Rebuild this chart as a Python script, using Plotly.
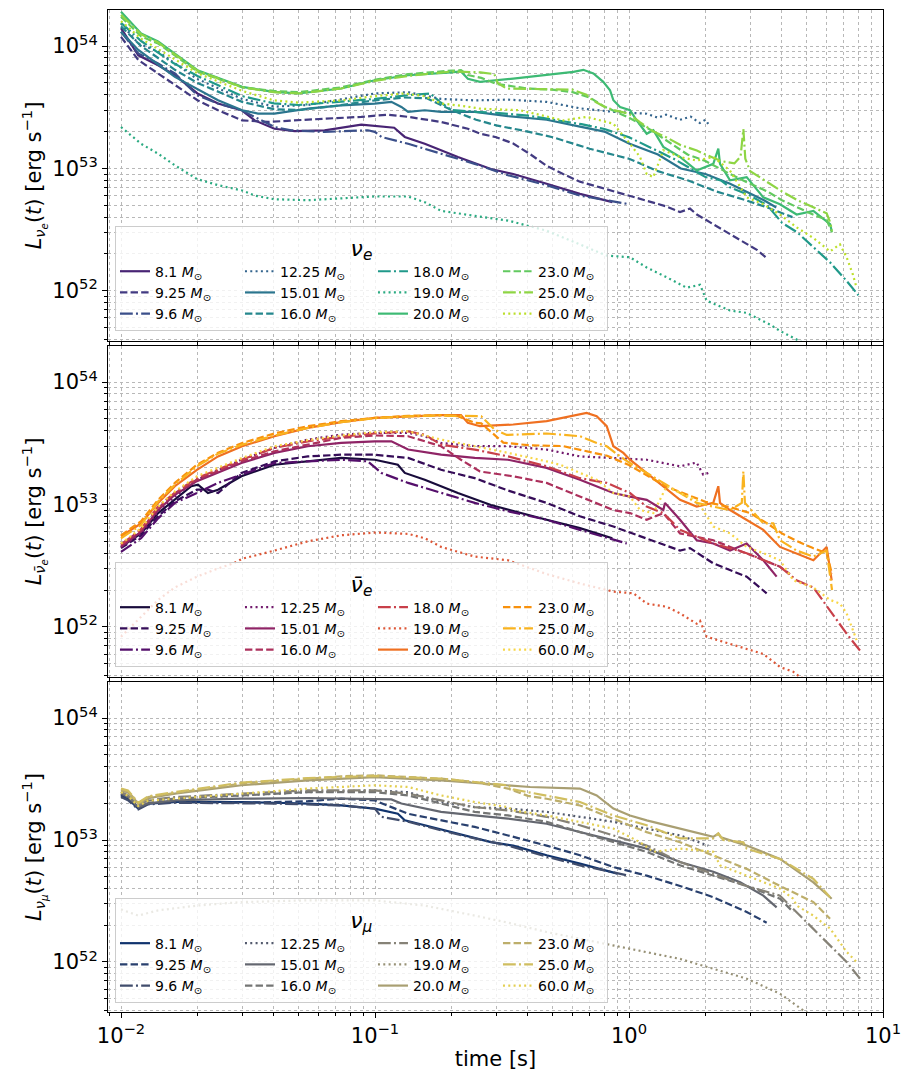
import plotly.graph_objects as go
from plotly.subplots import make_subplots
from plotly.colors import sample_colorscale, sequential

MASSES = ["8.1", "9.25", "9.6", "12.25", "15.01", "16.0", "18.0", "19.0", "20.0", "23.0", "25.0", "60.0"]
STYLES = ["solid", "dashed", "dashdot", "dotted"] * 3

# ---------------- nu_e luminosity (erg/s) vs time (s) ----------------
NUE_T = {
    "8.1": [0.01, 0.0117, 0.014, 0.0163, 0.02, 0.0241, 0.0298, 0.0336, 0.0402, 0.0483, 0.0633, 0.0883, 0.119, 0.131, 0.157, 0.212, 0.286, 0.35, 0.474, 0.641, 0.86],
    "9.25": [0.01, 0.0117, 0.014, 0.0163, 0.02, 0.0241, 0.03, 0.0379, 0.0468, 0.0633, 0.0883, 0.1125, 0.135, 0.182, 0.232, 0.26, 0.30, 0.35, 0.41, 0.474, 0.55, 0.641, 0.77, 1.0, 1.174, 1.4, 1.588, 1.738, 1.85, 2.147, 2.5, 2.906, 3.2, 3.483],
    "9.6": [0.01, 0.0117, 0.014, 0.0163, 0.02, 0.0241, 0.0298, 0.0402, 0.0468, 0.0633, 0.0937, 0.0998, 0.106, 0.135, 0.182, 0.247, 0.334, 0.474, 0.641, 0.77, 1.0],
    "12.25": [0.01, 0.0117, 0.014, 0.0199, 0.03, 0.0402, 0.0544, 0.0736, 0.0998, 0.135, 0.182, 0.247, 0.334, 0.474, 0.641, 0.868, 1.174, 1.3, 1.4, 1.588, 1.75, 1.9, 2.0, 2.084],
    "15.01": [0.01, 0.0117, 0.0163, 0.0199, 0.0241, 0.03, 0.0346, 0.0402, 0.0544, 0.0736, 0.0998, 0.116, 0.127, 0.135, 0.157, 0.182, 0.247, 0.334, 0.474, 0.641, 0.8, 1.0, 1.3, 1.6, 2.0, 2.5, 3.0, 3.4, 3.8],
    "16.0": [0.01, 0.012, 0.0163, 0.02, 0.03, 0.04, 0.05, 0.07, 0.1, 0.13, 0.16, 0.2, 0.25, 0.3, 0.4, 0.5, 0.7, 1.0, 1.3, 1.7, 2.2, 2.8, 3.5, 4.4],
    "18.0": [0.01, 0.012, 0.016, 0.02, 0.03, 0.04, 0.05, 0.07, 0.1, 0.14, 0.165, 0.18, 0.2, 0.25, 0.3, 0.4, 0.5, 0.65, 0.8, 1.0, 1.2, 1.5, 2.0, 2.3, 2.5, 3.0, 3.5, 4.0, 4.6, 5.3, 6.2, 7.2, 8.0],
    "19.0": [0.01, 0.012, 0.014, 0.0163, 0.0199, 0.0241, 0.03, 0.0336, 0.0402, 0.0544, 0.0998, 0.135, 0.157, 0.182, 0.247, 0.334, 0.474, 0.641, 0.817, 1.009, 1.174, 1.406, 1.686, 1.904, 2.022, 2.498, 2.906, 3.59, 3.93, 4.57, 5.3],
    "20.0": [0.01, 0.012, 0.014, 0.02, 0.03, 0.04, 0.05, 0.0736, 0.0998, 0.135, 0.2, 0.218, 0.232, 0.259, 0.35, 0.474, 0.604, 0.661, 0.724, 0.792, 0.842, 0.868, 0.922, 1.009, 1.072, 1.174, 1.247, 1.365, 1.588, 1.847, 2.147, 2.247, 2.282, 2.498, 2.906, 3.379, 3.93, 4.57, 5.32, 6.19, 6.28],
    "23.0": [0.01, 0.012, 0.014, 0.02, 0.03, 0.04, 0.05, 0.0736, 0.0998, 0.135, 0.2, 0.218, 0.232, 0.262, 0.301, 0.4, 0.5, 0.6, 0.7, 0.8, 1.0, 1.2, 1.4, 1.7, 2.0, 2.5, 3.0, 3.5, 4.0, 4.6, 5.3, 6.0, 6.3],
    "25.0": [0.01, 0.012, 0.014, 0.02, 0.03, 0.04, 0.05, 0.0736, 0.0998, 0.135, 0.2, 0.26, 0.295, 0.304, 0.324, 0.33, 0.45, 0.6, 0.68, 0.72, 0.8, 0.87, 1.0, 1.1, 1.25, 1.4, 1.6, 1.85, 2.0, 2.3, 2.6, 2.75, 2.82, 2.87, 3.0, 3.4, 4.0, 4.6, 5.3, 6.0, 6.2, 6.3],
    "60.0": [0.01, 0.012, 0.0163, 0.02, 0.03, 0.04, 0.05, 0.0736, 0.0998, 0.13, 0.157, 0.182, 0.232, 0.259, 0.372, 0.551, 0.681, 0.868, 1.009, 1.105, 1.174, 1.247, 1.365, 1.588, 1.847, 2.147, 2.498, 2.906, 3.379, 3.93, 4.57, 5.32, 6.19, 6.77, 7.19, 7.6, 7.87],
}
NUE_L = {
    "8.1": [1.40e54, 8.4e53, 6.98e53, 5.78e53, 4.10e53, 3.39e53, 2.99e53, 2.47e53, 2.11e53, 2.02e53, 2.05e53, 2.28e53, 2.15e53, 1.81e53, 1.59e53, 1.24e53, 9.9e52, 9.0e52, 7.5e52, 6.2e52, 5.3e52],
    "9.25": [1.19e54, 7.7e53, 5.97e53, 4.79e53, 3.61e53, 2.99e53, 2.47e53, 2.40e53, 2.47e53, 2.55e53, 2.64e53, 2.75e53, 2.64e53, 2.40e53, 2.11e53, 1.92e53, 1.80e53, 1.60e53, 1.30e53, 1.05e53, 9.0e52, 7.8e52, 7.0e52, 6.0e52, 5.5e52, 4.9e52, 4.4e52, 4.7e52, 4.2e52, 3.5e52, 2.9e52, 2.4e52, 2.15e52, 1.85e52],
    "9.6": [1.31e54, 8.7e53, 7.2e53, 5.97e53, 3.96e53, 3.39e53, 2.99e53, 2.18e53, 2.05e53, 1.99e53, 2.05e53, 1.99e53, 1.81e53, 1.59e53, 1.32e53, 1.09e53, 8.8e52, 7.3e52, 6.0e52, 5.6e52, 5.1e52],
    "12.25": [1.53e54, 1.05e54, 9.0e53, 5.4e53, 3.7e53, 3.2e53, 3.3e53, 3.7e53, 4.1e53, 4.2e53, 3.7e53, 3.6e53, 3.65e53, 3.5e53, 3.1e53, 2.9e53, 2.8e53, 2.6e53, 2.75e53, 2.5e53, 2.65e53, 2.35e53, 2.5e53, 2.2e53],
    "15.01": [1.31e54, 9.3e53, 5.6e53, 4.5e53, 3.61e53, 2.99e53, 2.81e53, 2.81e53, 3.08e53, 3.28e53, 3.39e53, 3.5e53, 3.18e53, 2.9e53, 2.99e53, 2.9e53, 2.9e53, 2.68e53, 2.5e53, 2.2e53, 2.0e53, 1.6e53, 1.3e53, 1.0e53, 9.0e52, 7.5e52, 6.2e52, 5.5e52, 4.8e52],
    "16.0": [1.45e54, 1.0e54, 6.4e53, 5.0e53, 3.5e53, 3.05e53, 3.0e53, 3.25e53, 3.6e53, 3.8e53, 3.75e53, 3.0e53, 2.5e53, 2.25e53, 2.0e53, 1.8e53, 1.45e53, 1.2e53, 9.5e52, 8.0e52, 6.5e52, 5.6e52, 4.8e52, 4.0e52],
    "18.0": [1.55e54, 1.1e54, 7.3e53, 5.7e53, 3.9e53, 3.4e53, 3.3e53, 3.5e53, 3.7e53, 4.0e53, 4.1e53, 3.5e53, 3.0e53, 2.9e53, 2.85e53, 2.7e53, 2.5e53, 2.3e53, 2.1e53, 1.8e53, 1.5e53, 1.2e53, 8.5e52, 8.0e52, 7.0e52, 6.0e52, 5.0e52, 3.6e52, 3.0e52, 2.3e52, 1.7e52, 1.2e52, 9.2e51],
    "19.0": [2.18e53, 1.59e53, 1.32e53, 1.06e53, 8.2e52, 7.3e52, 6.6e52, 6.0e52, 5.6e52, 5.5e52, 5.9e52, 5.9e52, 5.3e52, 4.5e52, 4.1e52, 3.75e52, 3.1e52, 2.4e52, 1.94e52, 1.88e52, 1.55e52, 1.29e52, 1.06e52, 1.12e52, 8.3e51, 6.9e51, 6.6e51, 5.3e51, 4.7e51, 4.0e51, 3.4e51],
    "20.0": [1.91e54, 1.27e54, 1.09e54, 6.35e53, 4.64e53, 4.22e53, 4.1e53, 4.5e53, 5.26e53, 5.78e53, 6.1e53, 6.2e53, 5.4e53, 5.1e53, 5.43e53, 5.78e53, 6.16e53, 6.4e53, 5.97e53, 5.1e53, 4.36e53, 3.61e53, 3.18e53, 2.99e53, 2.47e53, 1.92e53, 2.05e53, 1.5e53, 1.24e53, 9.6e52, 1.09e53, 1.45e53, 1.09e53, 8.0e52, 8.5e52, 5.8e52, 5.1e52, 4.2e52, 4.5e52, 3.5e52, 3.1e52],
    "23.0": [1.74e54, 1.2e54, 1.05e54, 6.2e53, 4.6e53, 4.3e53, 4.2e53, 4.6e53, 5.3e53, 5.9e53, 6.3e53, 6.35e53, 5.8e53, 5.5e53, 4.9e53, 4.5e53, 4.4e53, 4.2e53, 3.8e53, 3.2e53, 2.6e53, 2.1e53, 1.7e53, 1.3e53, 1.15e53, 9.0e52, 7.5e52, 6.5e52, 5.5e52, 4.8e52, 4.2e52, 3.8e52, 3.0e52],
    "25.0": [1.8e54, 1.25e54, 1.07e54, 6.3e53, 4.6e53, 4.2e53, 4.1e53, 4.5e53, 5.2e53, 5.7e53, 6.2e53, 6.1e53, 5.9e53, 5.0e53, 4.6e53, 4.5e53, 4.45e53, 4.4e53, 4.0e53, 3.6e53, 3.2e53, 3.0e53, 2.8e53, 2.4e53, 2.0e53, 1.8e53, 1.55e53, 1.4e53, 1.3e53, 1.15e53, 1.1e53, 1.25e53, 2.1e53, 1.2e53, 9.5e52, 8.0e52, 6.5e52, 5.5e52, 4.8e52, 4.3e52, 3.6e52, 3.1e52],
    "60.0": [1.6e54, 1.15e54, 7.8e53, 6.0e53, 4.3e53, 3.6e53, 3.45e53, 3.6e53, 3.9e53, 4.1e53, 3.9e53, 3.4e53, 3.2e53, 3.08e53, 2.99e53, 2.47e53, 2.64e53, 2.32e53, 1.59e53, 1.24e53, 9.0e52, 8.5e52, 1.41e53, 1.24e53, 1.16e53, 1.24e53, 9.6e52, 5.8e52, 5.1e52, 4.2e52, 3.3e52, 2.7e52, 2.1e52, 2.4e52, 1.88e52, 1.37e52, 1.06e52],
}

# ---------------- anti nu_e ----------------
NUEB_T = {
    "8.1": [0.01, 0.012, 0.014, 0.0163, 0.0189, 0.0201, 0.022, 0.0241, 0.0298, 0.0402, 0.0544, 0.0736, 0.0998, 0.123, 0.131, 0.157, 0.212, 0.286, 0.474, 0.641, 0.86],
    "9.25": [0.01, 0.012, 0.014, 0.0163, 0.0199, 0.022, 0.0241, 0.0298, 0.0402, 0.0544, 0.0736, 0.0998, 0.135, 0.182, 0.247, 0.334, 0.474, 0.641, 0.868, 1.174, 1.588, 1.738, 2.147, 2.906, 3.483],
    "9.6": [0.01, 0.012, 0.014, 0.0163, 0.0199, 0.0241, 0.0298, 0.0402, 0.0544, 0.0736, 0.0937, 0.106, 0.135, 0.182, 0.247, 0.334, 0.474, 0.641, 0.98],
    "12.25": [0.01, 0.012, 0.014, 0.0163, 0.0199, 0.0298, 0.0402, 0.0544, 0.0736, 0.0998, 0.135, 0.157, 0.182, 0.247, 0.334, 0.474, 0.641, 0.868, 1.174, 1.588, 1.847, 1.96, 2.052],
    "15.01": [0.01, 0.012, 0.014, 0.0163, 0.0199, 0.0298, 0.0402, 0.0544, 0.0736, 0.0998, 0.116, 0.127, 0.135, 0.182, 0.247, 0.334, 0.474, 0.641, 0.868, 1.009, 1.174, 1.365, 1.385, 1.588, 1.847, 2.147, 2.498, 2.906, 3.379, 3.813],
    "16.0": [0.01, 0.012, 0.014, 0.0163, 0.0199, 0.0298, 0.0402, 0.0544, 0.0736, 0.0998, 0.135, 0.182, 0.218, 0.259, 0.35, 0.474, 0.641, 0.868, 1.009, 1.174, 1.365, 1.588, 2.147, 2.906, 3.93, 4.302],
    "18.0": [0.01, 0.012, 0.014, 0.0163, 0.0199, 0.0298, 0.0402, 0.0544, 0.0736, 0.0998, 0.135, 0.157, 0.182, 0.247, 0.334, 0.474, 0.641, 0.817, 1.009, 1.174, 1.365, 1.588, 2.147, 2.906, 3.93, 4.57, 5.32, 6.19, 7.19, 8.12],
    "19.0": [0.01, 0.012, 0.014, 0.0163, 0.0199, 0.0241, 0.0277, 0.03, 0.0402, 0.0544, 0.0736, 0.0998, 0.135, 0.157, 0.182, 0.247, 0.334, 0.474, 0.641, 0.868, 1.04, 1.174, 1.406, 1.588, 1.847, 1.904, 2.022, 2.906, 3.379, 3.93, 4.43, 4.71, 5.32],
    "20.0": [0.01, 0.012, 0.014, 0.0163, 0.0199, 0.0241, 0.03, 0.0402, 0.0544, 0.0736, 0.0998, 0.135, 0.182, 0.218, 0.232, 0.259, 0.35, 0.474, 0.681, 0.746, 0.817, 0.868, 0.95, 1.009, 1.174, 1.365, 1.588, 1.847, 2.147, 2.247, 2.282, 2.498, 2.906, 3.379, 3.93, 4.57, 5.32, 6.0, 6.28],
    "23.0": [0.01, 0.012, 0.014, 0.0163, 0.0199, 0.0241, 0.03, 0.0402, 0.0544, 0.0736, 0.0998, 0.135, 0.182, 0.212, 0.247, 0.262, 0.32, 0.4, 0.55, 0.7, 0.82, 1.0, 1.2, 1.4, 1.7, 2.0, 2.5, 3.0, 3.5, 4.0, 4.6, 5.3, 6.0, 6.3],
    "25.0": [0.01, 0.012, 0.014, 0.0163, 0.0199, 0.0241, 0.03, 0.0402, 0.0544, 0.0736, 0.0998, 0.135, 0.182, 0.247, 0.262, 0.295, 0.33, 0.474, 0.641, 0.746, 0.817, 0.922, 1.009, 1.174, 1.365, 1.588, 1.847, 2.147, 2.498, 2.78, 2.82, 2.86, 3.379, 3.7, 3.93, 4.57, 5.32, 6.0, 6.19, 6.3],
    "60.0": [0.01, 0.012, 0.014, 0.0163, 0.0199, 0.03, 0.0402, 0.0544, 0.0736, 0.0998, 0.135, 0.182, 0.247, 0.334, 0.474, 0.535, 0.641, 0.746, 0.868, 1.009, 1.105, 1.247, 1.406, 1.588, 1.847, 2.147, 2.498, 2.906, 3.379, 3.93, 4.434, 5.32, 6.19, 6.77, 7.19, 7.87],
}
NUEB_L = {
    "8.1": [4.5e52, 5.8e52, 8.5e52, 1.09e53, 1.41e53, 1.45e53, 1.24e53, 1.32e53, 1.70e53, 2.11e53, 2.25e53, 2.40e53, 2.32e53, 2.11e53, 1.81e53, 1.59e53, 1.24e53, 9.9e52, 7.5e52, 6.4e52, 5.3e52],
    "9.25": [4.4e52, 5.6e52, 8.0e52, 1.06e53, 1.32e53, 1.32e53, 1.24e53, 1.81e53, 2.25e53, 2.47e53, 2.55e53, 2.55e53, 2.40e53, 1.92e53, 1.64e53, 1.30e53, 1.03e53, 8.0e52, 6.6e52, 5.3e52, 4.2e52, 4.4e52, 3.3e52, 2.57e52, 1.88e52],
    "9.6": [4.1e52, 5.3e52, 7.7e52, 1.03e53, 1.24e53, 1.5e53, 1.75e53, 2.18e53, 2.25e53, 2.32e53, 2.25e53, 1.81e53, 1.5e53, 1.24e53, 1.03e53, 8.8e52, 7.5e52, 6.2e52, 4.8e52],
    "12.25": [4.5e52, 5.8e52, 8.8e52, 1.16e53, 1.59e53, 2.32e53, 2.9e53, 3.39e53, 3.72e53, 3.85e53, 3.85e53, 3.61e53, 3.18e53, 3.0e53, 2.99e53, 2.81e53, 2.47e53, 2.40e53, 2.32e53, 2.05e53, 2.2e53, 1.75e53, 1.81e53],
    "15.01": [4.5e52, 6.0e52, 9.0e52, 1.2e53, 1.55e53, 2.18e53, 2.64e53, 2.99e53, 3.18e53, 3.28e53, 3.28e53, 2.99e53, 2.81e53, 2.55e53, 2.40e53, 2.32e53, 1.99e53, 1.59e53, 1.24e53, 1.16e53, 1.09e53, 9.0e52, 1.03e53, 7.5e52, 5.1e52, 4.8e52, 4.2e52, 4.8e52, 3.5e52, 2.57e52],
    "16.0": [4.7e52, 6.2e52, 9.3e52, 1.24e53, 1.59e53, 2.25e53, 2.72e53, 3.08e53, 3.5e53, 3.66e53, 3.61e53, 2.99e53, 2.32e53, 1.86e53, 1.70e53, 1.5e53, 1.16e53, 9.0e52, 8.5e52, 7.5e52, 8.5e52, 5.8e52, 5.1e52, 4.0e52, 3.1e52, 2.7e52],
    "18.0": [4.7e52, 6.3e52, 9.6e52, 1.25e53, 1.64e53, 2.32e53, 2.9e53, 3.28e53, 3.58e53, 3.8e53, 3.96e53, 3.72e53, 3.08e53, 2.81e53, 2.47e53, 2.05e53, 1.64e53, 1.5e53, 1.24e53, 9.6e52, 8.5e52, 6.2e52, 4.8e52, 4.0e52, 3.1e52, 2.4e52, 2.1e52, 1.37e52, 8.8e51, 6.4e51],
    "19.0": [8.3e51, 1.21e52, 1.66e52, 2.1e52, 2.57e52, 3.0e52, 3.3e52, 3.6e52, 4.2e52, 5.0e52, 5.6e52, 5.9e52, 5.75e52, 5.3e52, 4.5e52, 3.75e52, 3.5e52, 2.7e52, 2.26e52, 1.94e52, 1.88e52, 1.55e52, 1.46e52, 1.29e52, 1.06e52, 1.12e52, 8.3e51, 6.6e51, 6.0e51, 4.7e51, 4.3e51, 3.9e51, 3.5e51],
    "20.0": [5.5e52, 7.0e52, 1.03e53, 1.41e53, 1.92e53, 2.47e53, 2.99e53, 3.61e53, 4.22e53, 4.7e53, 5.1e53, 5.26e53, 5.37e53, 5.37e53, 4.64e53, 4.36e53, 4.5e53, 4.79e53, 5.6e53, 5.26e53, 4.36e53, 2.99e53, 2.64e53, 2.32e53, 1.81e53, 1.41e53, 1.09e53, 9.6e52, 1.03e53, 1.41e53, 1.03e53, 9.0e52, 7.5e52, 6.2e52, 4.5e52, 4.0e52, 3.5e52, 4.5e52, 2.4e52],
    "23.0": [5.6e52, 7.3e52, 1.09e53, 1.5e53, 2.11e53, 2.64e53, 3.18e53, 3.8e53, 4.36e53, 4.79e53, 5.1e53, 5.3e53, 5.37e53, 5.26e53, 4.64e53, 4.6e53, 3.2e53, 3.05e53, 3.0e53, 2.7e53, 2.5e53, 2.1e53, 1.7e53, 1.4e53, 1.2e53, 1.05e53, 9.5e52, 8.5e52, 7.0e52, 5.8e52, 5.0e52, 4.4e52, 4.0e52, 2.7e52],
    "25.0": [5.3e52, 6.8e52, 1.06e53, 1.45e53, 2.05e53, 2.6e53, 3.08e53, 3.66e53, 4.22e53, 4.7e53, 5.07e53, 5.25e53, 5.33e53, 5.33e53, 5.26e53, 4.1e53, 3.7e53, 3.8e53, 3.61e53, 3.18e53, 2.99e53, 2.47e53, 2.18e53, 1.81e53, 1.5e53, 1.24e53, 1.03e53, 9.6e52, 9.0e52, 1.03e53, 1.86e53, 1.03e53, 7.0e52, 7.0e52, 5.1e52, 4.2e52, 3.75e52, 4.2e52, 2.57e52, 2.0e52],
    "60.0": [4.8e52, 6.4e52, 9.6e52, 1.28e53, 1.70e53, 2.40e53, 2.99e53, 3.35e53, 3.66e53, 3.9e53, 3.96e53, 3.39e53, 2.99e53, 2.64e53, 2.25e53, 2.11e53, 1.81e53, 1.59e53, 1.24e53, 1.16e53, 9.0e52, 8.5e52, 1.41e53, 1.24e53, 1.09e53, 6.6e52, 5.8e52, 4.5e52, 4.0e52, 3.5e52, 2.4e52, 2.1e52, 1.66e52, 1.55e52, 1.29e52, 7.8e51],
}

# ---------------- nu_mu ----------------
NUMU_T = {
    "8.1": [0.01, 0.01065, 0.0117, 0.0128, 0.0163, 0.0298, 0.0402, 0.0544, 0.0736, 0.0998, 0.123, 0.131, 0.157, 0.212, 0.286, 0.35, 0.474, 0.641, 0.9],
    "9.25": [0.01, 0.01065, 0.0117, 0.0128, 0.0163, 0.0298, 0.0402, 0.0544, 0.0736, 0.0998, 0.135, 0.182, 0.247, 0.334, 0.474, 0.641, 0.868, 1.174, 1.588, 2.147, 2.906, 3.483],
    "9.6": [0.01, 0.01065, 0.0117, 0.0128, 0.0163, 0.0402, 0.0736, 0.0998, 0.106, 0.135, 0.182, 0.247, 0.334, 0.474, 0.641, 1.0],
    "12.25": [0.01, 0.01065, 0.0117, 0.0128, 0.0163, 0.0298, 0.0544, 0.0998, 0.135, 0.182, 0.247, 0.334, 0.474, 0.641, 0.868, 1.174, 1.588, 2.052],
    "15.01": [0.01, 0.01065, 0.0117, 0.0128, 0.0163, 0.0298, 0.0544, 0.0998, 0.116, 0.127, 0.182, 0.247, 0.334, 0.474, 0.641, 0.868, 1.174, 1.588, 2.147, 2.74, 3.379, 3.813],
    "16.0": [0.01, 0.01065, 0.0117, 0.0128, 0.0163, 0.0298, 0.0544, 0.0998, 0.135, 0.182, 0.247, 0.334, 0.474, 0.641, 0.868, 1.174, 1.588, 2.147, 2.906, 3.93, 4.43],
    "18.0": [0.01, 0.01065, 0.0117, 0.0128, 0.0163, 0.0298, 0.0544, 0.0998, 0.135, 0.182, 0.247, 0.334, 0.474, 0.641, 0.868, 1.174, 1.588, 2.147, 2.906, 3.93, 4.57, 5.32, 6.19, 7.19, 8.12],
    "19.0": [0.01, 0.0117, 0.014, 0.0199, 0.0298, 0.0544, 0.0998, 0.157, 0.247, 0.334, 0.474, 0.641, 0.868, 1.174, 1.588, 2.147, 2.906, 3.93, 4.86, 5.32],
    "20.0": [0.01, 0.01065, 0.0117, 0.0128, 0.0163, 0.0298, 0.0544, 0.0998, 0.182, 0.334, 0.408, 0.641, 0.746, 0.868, 1.009, 1.174, 1.588, 2.147, 2.247, 2.3, 2.906, 3.93, 5.32, 6.28],
    "23.0": [0.01, 0.01065, 0.0117, 0.0128, 0.0163, 0.0298, 0.0544, 0.0736, 0.0998, 0.135, 0.182, 0.247, 0.334, 0.4, 0.474, 0.641, 0.868, 1.174, 1.588, 2.147, 2.906, 3.93, 5.32, 6.19],
    "25.0": [0.01, 0.01065, 0.0117, 0.0128, 0.0163, 0.0298, 0.0544, 0.0998, 0.182, 0.334, 0.35, 0.474, 0.641, 0.868, 1.174, 1.588, 2.147, 2.247, 2.35, 2.82, 2.906, 3.93, 5.32, 6.19],
    "60.0": [0.01, 0.01065, 0.0117, 0.0128, 0.0163, 0.0298, 0.0544, 0.0998, 0.135, 0.182, 0.247, 0.334, 0.35, 0.474, 0.641, 0.868, 1.105, 1.247, 1.588, 2.147, 2.282, 2.906, 3.93, 4.43, 4.57, 5.32, 6.19, 7.19, 7.87],
}
NUMU_L = {
    "8.1": [2.32e53, 2.18e53, 1.81e53, 1.99e53, 2.05e53, 2.05e53, 2.02e53, 1.99e53, 1.92e53, 1.81e53, 1.64e53, 1.45e53, 1.32e53, 1.13e53, 9.6e52, 9.0e52, 7.5e52, 6.4e52, 5.3e52],
    "9.25": [2.35e53, 2.2e53, 1.83e53, 2.0e53, 2.05e53, 2.02e53, 2.05e53, 2.08e53, 2.18e53, 2.11e53, 1.64e53, 1.45e53, 1.28e53, 1.09e53, 9.0e52, 7.5e52, 6.0e52, 5.1e52, 4.2e52, 3.4e52, 2.57e52, 2.1e52],
    "9.6": [2.25e53, 2.12e53, 1.78e53, 1.96e53, 2.02e53, 1.99e53, 1.92e53, 1.81e53, 1.55e53, 1.41e53, 1.2e53, 1.03e53, 9.0e52, 7.3e52, 6.2e52, 5.1e52],
    "12.25": [2.4e53, 2.25e53, 1.86e53, 2.05e53, 2.18e53, 2.32e53, 2.47e53, 2.55e53, 2.47e53, 2.05e53, 1.86e53, 1.81e53, 1.70e53, 1.55e53, 1.41e53, 1.24e53, 1.09e53, 9.0e52],
    "15.01": [2.4e53, 2.25e53, 1.86e53, 2.0e53, 2.11e53, 2.18e53, 2.21e53, 2.18e53, 2.15e53, 1.99e53, 1.70e53, 1.59e53, 1.5e53, 1.36e53, 1.16e53, 9.9e52, 8.5e52, 6.6e52, 5.5e52, 4.5e52, 3.5e52, 2.8e52],
    "16.0": [2.47e53, 2.3e53, 1.9e53, 2.1e53, 2.18e53, 2.32e53, 2.47e53, 2.47e53, 2.32e53, 1.99e53, 1.70e53, 1.59e53, 1.41e53, 1.16e53, 9.6e52, 8.0e52, 6.2e52, 5.1e52, 4.2e52, 3.3e52, 2.57e52],
    "18.0": [2.47e53, 2.32e53, 1.92e53, 2.12e53, 2.25e53, 2.40e53, 2.55e53, 2.55e53, 2.40e53, 2.11e53, 1.86e53, 1.75e53, 1.55e53, 1.32e53, 1.09e53, 9.0e52, 6.6e52, 5.3e52, 4.2e52, 3.5e52, 2.57e52, 1.88e52, 1.37e52, 1.0e52, 7.3e51],
    "19.0": [2.7e52, 2.4e52, 2.65e52, 2.9e52, 3.1e52, 3.2e52, 3.2e52, 2.9e52, 2.4e52, 2.1e52, 1.76e52, 1.55e52, 1.37e52, 1.21e52, 1.06e52, 8.8e51, 7.3e51, 5.5e51, 4.0e51, 3.6e51],
    "20.0": [2.55e53, 2.45e53, 1.99e53, 2.2e53, 2.40e53, 2.81e53, 3.08e53, 3.28e53, 3.08e53, 2.81e53, 2.72e53, 2.64e53, 2.32e53, 1.81e53, 1.59e53, 1.45e53, 1.24e53, 1.06e53, 1.13e53, 1.05e53, 9.0e52, 7.0e52, 4.5e52, 3.3e52],
    "23.0": [2.6e53, 2.5e53, 2.0e53, 2.25e53, 2.43e53, 2.9e53, 3.18e53, 3.33e53, 3.39e53, 3.28e53, 3.18e53, 2.99e53, 2.64e53, 2.3e53, 2.18e53, 1.92e53, 1.5e53, 1.16e53, 9.6e52, 7.5e52, 5.8e52, 4.2e52, 3.1e52, 2.26e52],
    "25.0": [2.64e53, 2.55e53, 2.02e53, 2.28e53, 2.47e53, 2.95e53, 3.22e53, 3.35e53, 3.18e53, 2.81e53, 2.6e53, 2.32e53, 2.05e53, 1.59e53, 1.32e53, 1.03e53, 1.03e53, 1.13e53, 1.0e53, 9.6e52, 8.5e52, 7.0e52, 4.8e52, 3.4e52],
    "60.0": [2.47e53, 2.3e53, 1.9e53, 2.1e53, 2.18e53, 2.40e53, 2.64e53, 2.81e53, 2.72e53, 2.32e53, 2.05e53, 1.86e53, 1.75e53, 1.59e53, 1.41e53, 1.24e53, 9.6e52, 8.0e52, 8.5e52, 8.0e52, 6.2e52, 5.1e52, 4.0e52, 3.3e52, 2.9e52, 2.4e52, 1.88e52, 1.21e52, 1.0e52],
}

LEGEND_TITLES = ["<i>ν</i><sub><i>e</i></sub>", "<i>ν̄</i><sub><i>e</i></sub>", "<i>ν</i><sub><i>μ</i></sub>"]
Y_TITLES = [
    "<i>L</i><sub><i>ν</i><sub><i>e</i></sub></sub>(<i>t</i>) [erg s<sup>−1</sup>]",
    "<i>L</i><sub><i>ν̄</i><sub><i>e</i></sub></sub>(<i>t</i>) [erg s<sup>−1</sup>]",
    "<i>L</i><sub><i>ν</i><sub><i>μ</i></sub></sub>(<i>t</i>) [erg s<sup>−1</sup>]",
]
X_TITLE = "time [s]"
X_TICKVALS = [0.01, 0.1, 1, 10]
X_TICKTEXT = ["10<sup>−2</sup>", "10<sup>−1</sup>", "10<sup>0</sup>", "10<sup>1</sup>"]
Y_TICKVALS = [1e52, 1e53, 1e54]
Y_TICKTEXT = ["10<sup>52</sup>", "10<sup>53</sup>", "10<sup>54</sup>"]

FONT = "DejaVu Sans"
DASH = {"solid": "solid", "dashed": "7.4px,3.2px", "dashdot": "12.8px,3.2px,2px,3.2px", "dotted": "2px,3.3px"}
COL_WIDTHS = [80, 88, 80, 64]
FRACS = [0.1 + 0.8 * i / 11 for i in range(12)]
PALETTES = [
    sample_colorscale(sequential.Viridis, FRACS),
    sample_colorscale(sequential.Inferno, FRACS),
    sample_colorscale(sequential.Cividis, FRACS),
]
PANELS = [(NUE_T, NUE_L), (NUEB_T, NUEB_L), (NUMU_T, NUMU_L)]

fig = make_subplots(rows=3, cols=1, shared_xaxes=True, vertical_spacing=0.005)

for p, (tt, ll) in enumerate(PANELS):
    leg = "legend" if p == 0 else f"legend{p + 1}"
    for i, m in enumerate(MASSES):
        assert len(tt[m]) == len(ll[m]), (p, m, len(tt[m]), len(ll[m]))
        fig.add_trace(
            go.Scatter(
                x=tt[m], y=ll[m], mode="lines",
                name=f"{m} <i>M</i><sub>⊙</sub>",
                line=dict(color=PALETTES[p][i], width=2.2, dash=DASH[STYLES[i]]),
                legend=leg,
                legendgroup=f"p{p}c{i // 3}",
                legendwidth=COL_WIDTHS[i // 3],
                showlegend=True,
                hoverinfo="skip",
            ),
            row=p + 1, col=1,
        )

domains = [[0.6697, 1.0], [0.3343, 0.6647], [0.0, 0.3293]]
leg_y = [0.6796, 0.3443, 0.009]
grid_col = "#b8b8b8"

layout = dict(
    width=912, height=1081,
    margin=dict(l=108, r=29, t=10, b=69),
    paper_bgcolor="white", plot_bgcolor="white",
    font=dict(family=FONT, color="black", size=20),
    showlegend=True,
)
for p in range(3):
    sfx = "" if p == 0 else str(p + 1)
    layout["yaxis" + sfx] = dict(
        domain=domains[p], type="log", range=[51.59, 54.295],
        tickmode="array", tickvals=Y_TICKVALS, ticktext=Y_TICKTEXT,
        tickfont=dict(size=21, family=FONT), ticks="outside", ticklen=5, tickwidth=1, tickcolor="black",
        showline=True, linecolor="black", linewidth=1, mirror=True,
        showgrid=True, gridcolor=grid_col, griddash="dot", gridwidth=1,
        minor=dict(dtick="D1", ticks="outside", ticklen=3, tickwidth=0.8, tickcolor="black",
                   showgrid=True, gridcolor=grid_col, griddash="dot", gridwidth=0.8),
        title=dict(text=Y_TITLES[p], font=dict(size=21, family=FONT), standoff=5),
        zeroline=False,
    )
    layout["xaxis" + sfx] = dict(
        type="log", range=[-2.0512, 1.0],
        tickmode="array", tickvals=X_TICKVALS, ticktext=X_TICKTEXT,
        tickfont=dict(size=21, family=FONT), ticks="outside", ticklen=5, tickwidth=1, tickcolor="black",
        showline=True, linecolor="black", linewidth=1, mirror=True,
        showgrid=True, gridcolor=grid_col, griddash="dot", gridwidth=1,
        minor=dict(dtick="D1", ticks="outside", ticklen=3, tickwidth=0.8, tickcolor="black",
                   showgrid=True, gridcolor=grid_col, griddash="dot", gridwidth=0.8),
        showticklabels=(p == 2),
        zeroline=False,
    )
    leg_key = "legend" if p == 0 else f"legend{p + 1}"
    layout[leg_key] = dict(
        x=0.009, y=leg_y[p], xanchor="left", yanchor="bottom",
        orientation="h", entrywidthmode="pixels",
        bgcolor="rgba(255,255,255,0.8)", bordercolor="#cccccc", borderwidth=1,
        font=dict(size=14, family=FONT, color="black"),
        title=dict(text=LEGEND_TITLES[p], side="top center", font=dict(size=22, family=FONT)),
        traceorder="grouped", itemclick=False, itemdoubleclick=False,
    )
layout["xaxis3"]["title"] = dict(text=X_TITLE, font=dict(size=21, family=FONT), standoff=4)

fig.update_layout(**layout)
fig.write_html("out.html")
